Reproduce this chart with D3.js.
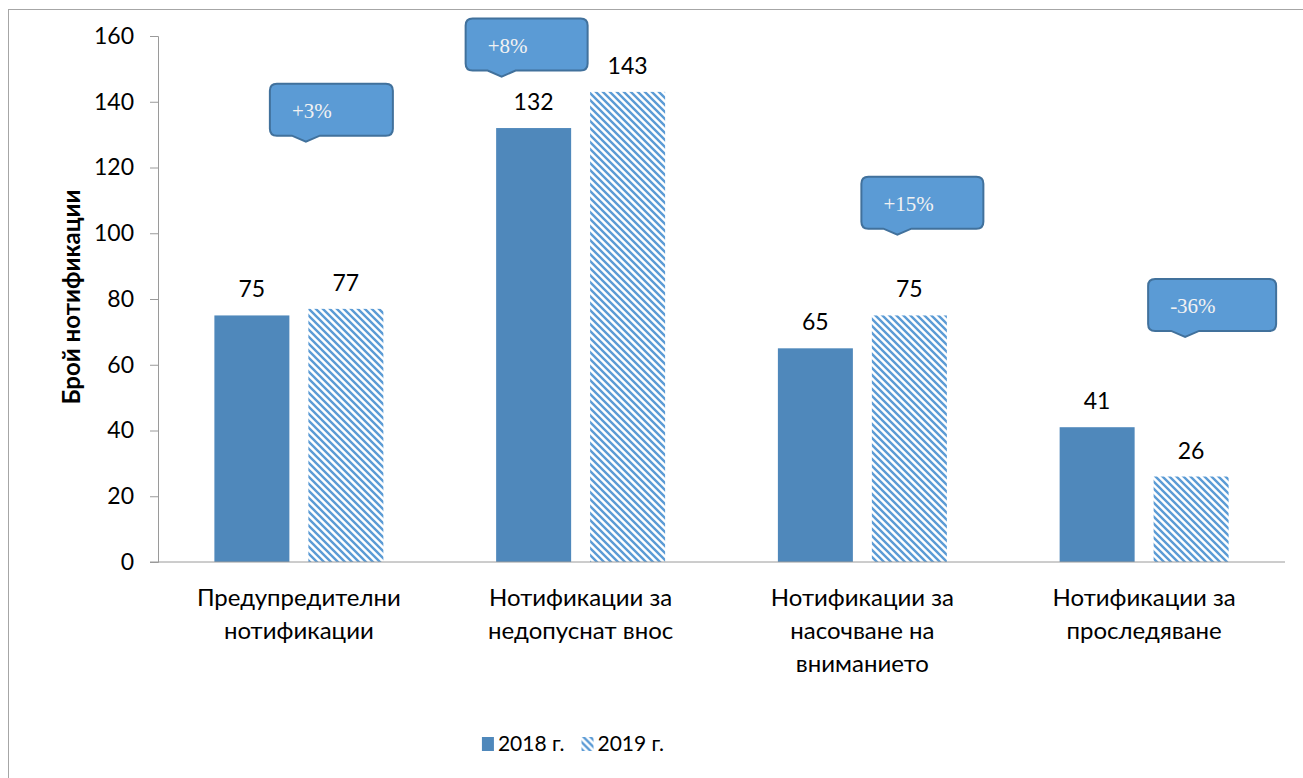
<!DOCTYPE html>
<html>
<head>
<meta charset="utf-8">
<script src="https://cdn.jsdelivr.net/npm/d3@7"></script>
<style>
  body { margin: 0; background: #fff; }
  text { font-family: Lato, "Open Sans", sans-serif; }
</style>
</head>
<body>
<div id="viz"></div>
<script>
const categories = ["Предупредителни нотификации", "Нотификации за недопуснат внос",
                    "Нотификации за насочване на вниманието", "Нотификации за проследяване"]
const categoryLines = [["Предупредителни", "нотификации"], ["Нотификации за", "недопуснат внос"],
                       ["Нотификации за", "насочване на", "вниманието"], ["Нотификации за", "проследяване"]]
const years = ["2018 г.", "2019 г."]
const values2018 = [75, 132, 65, 41]
const values2019 = [77, 143, 75, 26]
const yTicks = [0, 20, 40, 60, 80, 100, 120, 140, 160]
const changeLabels = ["+3%", "+8%", "+15%", "-36%"]
const changeTops = [145.5, 165.3, 117.2, 86.1]   // value at top of each callout

function chart () {
    const width = 1303
    const height = 778
    const margin = {top: 36, right: 18, bottom: 216, left: 158}

    const svg = d3.select("#viz").append("svg")
                  .attr("width", width)
                  .attr("height", height)

    // hatch for 2019
    const pat = svg.append("defs").append("pattern")
                   .attr("id", "hatch")
                   .attr("patternUnits", "userSpaceOnUse")
                   .attr("width", 7).attr("height", 7)
    pat.append("rect").attr("width", 7).attr("height", 7).attr("fill", "#fff")
    pat.append("path")
       .attr("d", "M0,0 L7,7 M-2,5 L2,9 M5,-2 L9,2")
       .attr("stroke", "#5B9BD5").attr("stroke-width", 2.4)

    // outer border
    svg.append("rect")
       .attr("x", 8.5).attr("y", 9.5)
       .attr("width", width + 10).attr("height", height + 10)
       .attr("fill", "none").attr("stroke", "#a6a6a6")

    const x0 = d3.scaleBand()
                 .domain(categories)
                 .range([margin.left, width - margin.right])
    const x1 = d3.scaleBand()
                 .domain(years)
                 .range([0, x0.bandwidth()])
                 .paddingInner(0.202)
                 .paddingOuter(0.6)
    const y = d3.scaleLinear()
                .domain([0, 160])
                .range([height - margin.bottom, margin.top])

    const colors = {"2018 г.": "#4F88BB", "2019 г.": "url(#hatch)"}

    const data = []
    categories.forEach((c, i) => {
        data.push({cat: c, year: years[0], v: values2018[i]})
        data.push({cat: c, year: years[1], v: values2019[i]})
    })

    // y axis
    const yAxis = d3.axisLeft(y).tickValues(yTicks).tickSize(8).tickPadding(16)
    const gy = svg.append("g")
                  .attr("transform", `translate(${margin.left},0)`)
                  .call(yAxis)
    gy.select(".domain").attr("stroke", "#9a9a9a")
    gy.selectAll(".tick line").attr("stroke", "#9a9a9a")
    gy.selectAll(".tick text").attr("font-size", 23).attr("fill", "#000")
      .style("font-family", "Lato, 'Open Sans', sans-serif")

    svg.append("text")
       .attr("transform", `translate(80,${(y(0) + y(160)) / 2 - 2}) rotate(-90)`)
       .attr("text-anchor", "middle")
       .attr("font-size", 24).attr("font-weight", "bold")
       .text("Брой нотификации")

    // bars
    svg.append("g").selectAll("rect")
       .data(data)
       .join("rect")
       .attr("x", d => x0(d.cat) + x1(d.year))
       .attr("y", d => y(d.v))
       .attr("width", x1.bandwidth())
       .attr("height", d => y(0) - y(d.v))
       .attr("fill", d => colors[d.year])

    svg.append("g").selectAll("text")
       .data(data)
       .join("text")
       .attr("x", d => x0(d.cat) + x1(d.year) + x1.bandwidth() / 2)
       .attr("y", d => y(d.v) - 18)
       .attr("text-anchor", "middle")
       .attr("font-size", 23)
       .text(d => d.v)

    // x axis baseline
    svg.append("line")
       .attr("x1", margin.left - 8).attr("x2", width - margin.right)
       .attr("y1", y(0)).attr("y2", y(0))
       .attr("stroke", "#9a9a9a")

    // category labels
    const cl = svg.append("g").selectAll("text")
                  .data(categories)
                  .join("text")
                  .attr("text-anchor", "middle")
                  .attr("font-size", 24)
    cl.selectAll("tspan")
      .data((d, i) => categoryLines[i].map(t => ({t, c: d})))
      .join("tspan")
      .attr("x", d => x0(d.c) + x0.bandwidth() / 2)
      .attr("y", (d, j) => y(0) + 44 + j * 33)
      .text(d => d.t)

    // callouts
    const boxOffset = [-29, -115, -1, 4]
    const boxW = [123, 122, 122, 128]
    const boxH = 52
    const tipOffset = [36, 36, 36, 37]
    categories.forEach((c, i) => {
        const cx = x0(c) + x0.bandwidth() / 2
        const left = cx + boxOffset[i]
        const top = y(changeTops[i])
        const w = boxW[i], h = boxH, r = 7
        const tx = left + tipOffset[i]
        const p = d3.path()
        p.moveTo(left + r, top)
        p.lineTo(left + w - r, top)
        p.quadraticCurveTo(left + w, top, left + w, top + r)
        p.lineTo(left + w, top + h - r)
        p.quadraticCurveTo(left + w, top + h, left + w - r, top + h)
        p.lineTo(tx + 14, top + h)
        p.lineTo(tx, top + h + 6)
        p.lineTo(tx - 14, top + h)
        p.lineTo(left + r, top + h)
        p.quadraticCurveTo(left, top + h, left, top + h - r)
        p.lineTo(left, top + r)
        p.quadraticCurveTo(left, top, left + r, top)
        p.closePath()
        svg.append("path")
           .attr("d", p.toString())
           .attr("fill", "#5B9BD5")
           .attr("stroke", "#41719C")
           .attr("stroke-width", 2)
        svg.append("text")
           .attr("x", left + 22)
           .attr("y", top + 34)
           .attr("font-size", 21)
           .attr("fill", "#f2f2f2")
           .style("font-family", "'Liberation Serif', 'DejaVu Serif', serif")
           .text(changeLabels[i])
    })

    // legend, centred under the plot
    const lg = svg.append("g")
    const items = lg.selectAll("g")
                    .data(years)
                    .join("g")
    items.append("rect")
         .attr("y", 737)
         .attr("width", 12).attr("height", 14)
         .attr("fill", d => colors[d])
    items.append("text")
         .attr("x", 16).attr("y", 751)
         .attr("font-size", 21)
         .text(d => d)
    let xpos = 0
    const widths = []
    items.each(function () {
        const w = 16 + d3.select(this).select("text").node().getComputedTextLength()
        widths.push(w)
    })
    const gap = 17
    const total = d3.sum(widths) + gap * (widths.length - 1)
    xpos = 573 - total / 2
    items.attr("transform", (d, i) => {
        const t = `translate(${xpos},0)`
        xpos += widths[i] + gap
        return t
    })
}

chart()
</script>
</body>
</html>
